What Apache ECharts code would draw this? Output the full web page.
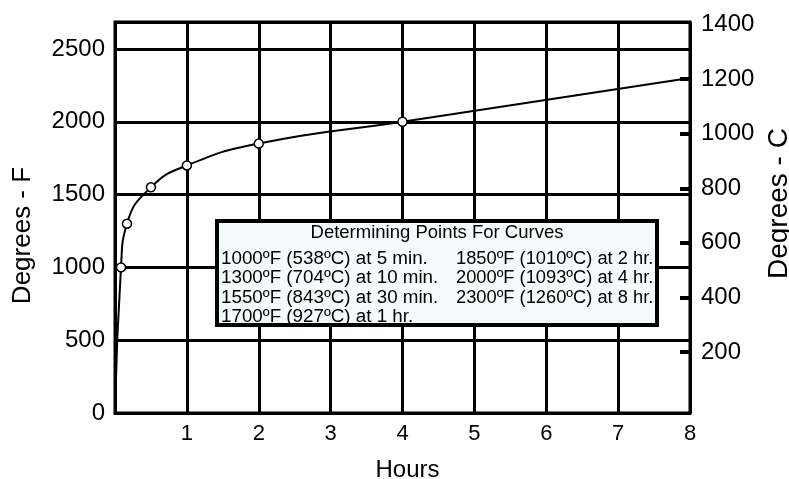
<!DOCTYPE html>
<html>
<head>
<meta charset="utf-8">
<script src="https://cdn.jsdelivr.net/npm/echarts@6/dist/echarts.min.js"></script>
<style>html,body{margin:0;padding:0;background:#fff;}#chart{width:789px;height:479px;}</style>
</head>
<body>
<div id="chart"></div>
<script>
// ---- data ----
const hours = [0, 0.0833, 0.1667, 0.5, 1, 2, 4, 8];
const tempF = [0, 1000, 1300, 1550, 1700, 1850, 2000, 2300];
const marked = [false, true, true, true, true, true, true, false];
const hourTicks = [1, 2, 3, 4, 5, 6, 7, 8];
const fTicks = [0, 500, 1000, 1500, 2000, 2500];
const cLabels = [200, 400, 600, 800, 1000, 1200, 1400];
const cTickMarks = [200, 400, 600, 800, 1000, 1200];
const legendTitle = 'Determining Points For Curves';
const legendLeft = ['1000ºF (538ºC) at 5 min.', '1300ºF (704ºC) at 10 min.', '1550ºF (843ºC) at 30 min.', '1700ºF (927ºC) at 1 hr.'];
const legendRight = ['1850ºF (1010ºC) at 2 hr.', '2000ºF (1093ºC) at 4 hr.', '2300ºF (1260ºC) at 8 hr.'];

const FONT = "'Liberation Sans', Arial, sans-serif";
const chart = echarts.init(document.getElementById('chart'), null, {renderer: 'canvas'});

const seriesData = hours.map((h, i) => ({
  value: [h, tempF[i]],
  symbol: marked[i] ? 'circle' : 'none'
}));

const plain = v => String(v);

const legendElems = [];
legendElems.push({type: 'rect', shape: {x: 217, y: 221, width: 440, height: 104},
  style: {fill: '#f4fbfb', stroke: '#000', lineWidth: 4}, z: 100});
legendElems.push({type: 'text', x: 437, y: 233, z: 101,
  style: {text: legendTitle, font: '18.5px ' + FONT, fill: '#000', align: 'center', verticalAlign: 'middle'}});
legendLeft.forEach((t, i) => legendElems.push({type: 'text', x: 221, y: 258.5 + i * 19.5, z: 101,
  style: {text: t, font: '18.8px ' + FONT, fill: '#000', align: 'left', verticalAlign: 'middle'}}));
legendRight.forEach((t, i) => legendElems.push({type: 'text', x: 456, y: 258.5 + i * 19.5, z: 101,
  style: {text: t, font: '18.3px ' + FONT, fill: '#000', align: 'left', verticalAlign: 'middle'}}));

const option = {
  backgroundColor: '#fff',
  animation: false,
  textStyle: {fontFamily: FONT, color: '#000'},
  grid: [
    {left: 115, right: 99, top: 22, bottom: 66, show: true, borderColor: '#000', borderWidth: 3,
     backgroundColor: 'transparent', containLabel: false, outerBoundsMode: 'none'},
    {left: 115, right: 99, top: 24.5, bottom: 72.4, show: false, containLabel: false, outerBoundsMode: 'none'}
  ],
  xAxis: [
    {type: 'value', gridIndex: 0, min: 0, max: 8, interval: 1,
     name: 'Hours', nameLocation: 'middle', nameGap: 45,
     nameTextStyle: {fontSize: 24, color: '#000', fontFamily: FONT, padding: [0, 0, 0, 10]},
     axisLine: {show: true, onZero: false, lineStyle: {color: '#000', width: 3}},
     axisTick: {show: false},
     axisLabel: {customValues: hourTicks, fontSize: 22, color: '#000', margin: 10, fontFamily: FONT, formatter: plain},
     splitLine: {show: true, lineStyle: {color: '#000', width: 3}}},
    {type: 'value', gridIndex: 1, min: 0, max: 8, show: false, axisLine: {onZero: false}}
  ],
  yAxis: [
    {type: 'value', gridIndex: 0, min: 0, max: 2685, interval: 500, position: 'left',
     name: 'Degrees - F', nameLocation: 'middle', nameRotate: 90, nameGap: 79,
     nameTextStyle: {fontSize: 26, color: '#000', fontFamily: FONT, padding: [0, 36, 0, 0]},
     axisLine: {show: true, onZero: false, lineStyle: {color: '#000', width: 3}},
     axisTick: {show: false},
     axisLabel: {customValues: fTicks, fontSize: 24, color: '#000', margin: 10, fontFamily: FONT, formatter: plain},
     splitLine: {show: true, lineStyle: {color: '#000', width: 3}}},
    {type: 'value', gridIndex: 1, min: 0, max: 1400, interval: 200, position: 'right',
     name: 'Degrees - C', nameLocation: 'middle', nameRotate: 90, nameGap: 65,
     nameTextStyle: {fontSize: 28, color: '#000', fontFamily: FONT, padding: [0, 0, 0, 24]},
     axisLine: {show: false, onZero: false},
     axisTick: {show: true, inside: true, length: 10, customValues: cTickMarks, lineStyle: {color: '#000', width: 4}},
     axisLabel: {customValues: cLabels, fontSize: 24, color: '#000', margin: 11, fontFamily: FONT, formatter: plain},
     splitLine: {show: false}}
  ],
  series: [{
    type: 'line', xAxisIndex: 0, yAxisIndex: 0,
    data: seriesData,
    smooth: 0.5,
    showSymbol: true, showAllSymbol: true,
    symbolSize: 9,
    lineStyle: {color: '#000', width: 2},
    itemStyle: {color: '#fff', borderColor: '#000', borderWidth: 1.5},
    z: 5
  }],
  graphic: legendElems
};
chart.setOption(option);
</script>
</body>
</html>
